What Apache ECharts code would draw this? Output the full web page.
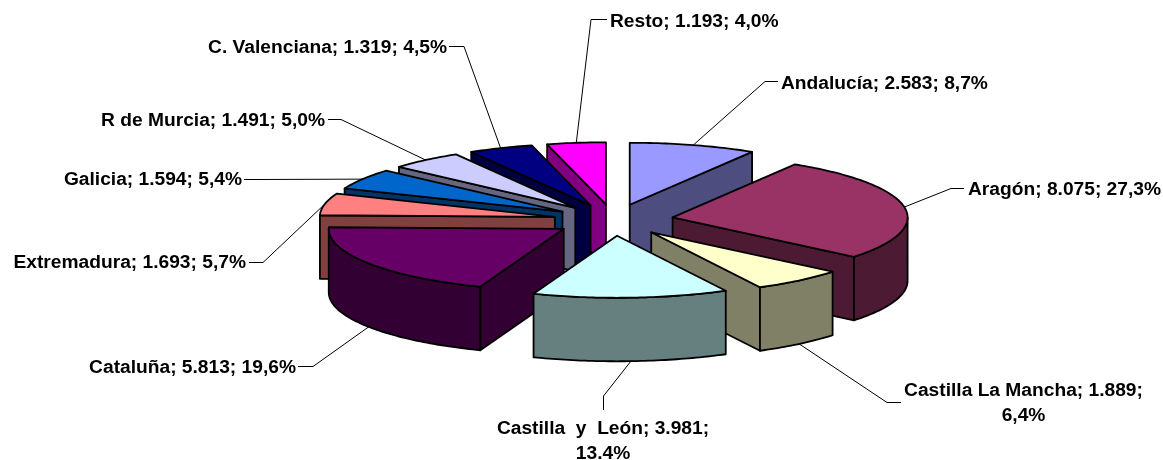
<!DOCTYPE html>
<html>
<head>
<meta charset="utf-8">
<style>html,body{margin:0;padding:0;background:#fff}#c{width:1163px;height:460px}</style>
<script src="https://cdn.jsdelivr.net/npm/echarts@6/dist/echarts.min.js"></script>
</head>
<body>
<div id="c"></div>
<script>
// ---- data ----
const categories = ['Andalucía','Aragón','Castilla La Mancha','Castilla  y  León','Cataluña','Extremadura','Galicia','R de Murcia','C. Valenciana','Resto'];
const values = [2583,8075,1889,3981,5813,1693,1594,1491,1319,1193];
const percentLabels = ['8,7%','27,3%','6,4%','13.4%','19,6%','5,7%','5,4%','5,0%','4,5%','4,0%'];

// ---- styles ----
const topColors  = ['#9999FF','#993366','#FFFFCC','#CCFFFF','#660066','#FF8080','#0066CC','#CCCCFF','#000080','#FF00FF'];
const sideColors = ['#4D4D80','#4D1A33','#808066','#668080','#330033','#804040','#003366','#666680','#000040','#800080'];

// ---- 3D pie projection ----
const CX = 613.5, CY = 220, RX = 235, RY = 62, DEPTH = 63.5, EXPLODE = 0.255;
const total = values.reduce((a, b) => a + b, 0);
const DEG = Math.PI / 180;

// slice geometry derived from the values only
const slices = [];
(function () {
  let acc = 0;
  values.forEach(function (v, i) {
    const a0 = acc / total * 360; acc += v;
    const a1 = acc / total * 360, mid = (a0 + a1) / 2;
    slices.push({
      i: i, a0: a0, a1: a1, mid: mid,
      ax: CX + EXPLODE * RX * Math.sin(mid * DEG),
      ay: CY - EXPLODE * RY * Math.cos(mid * DEG)
    });
  });
})();
function rim(s, deg, drop) {
  return [s.ax + RX * Math.sin(deg * DEG), s.ay - RY * Math.cos(deg * DEG) + (drop || 0)];
}
function arc(s, from, to, drop) {
  const n = Math.max(2, Math.ceil(Math.abs(to - from)));
  const pts = [];
  for (let k = 0; k <= n; k++) pts.push(rim(s, from + (to - from) * k / n, drop));
  return pts;
}
function cutVisible(deg, mid) {
  const ex = Math.sin(deg * DEG) * RX, ey = -Math.cos(deg * DEG) * RY;
  const mx = Math.sin(mid * DEG) * RX, my = -Math.cos(mid * DEG) * RY;
  return (ex * my - ey * mx) * ex < -1e-6;
}
// painter's order: back slices first
const drawOrder = slices.slice().sort((p, q) => p.ay - q.ay).map(s => s.i);

// ---- label placement (text anchor and leader-line bend/end), in slice order ----
const labelLayouts = [
  {x: 781,  y: 84,  align: 'left',   elbow: [765, 81.5],  end: [778, 81.5]},
  {x: 968,  y: 190, align: 'left',   elbow: [951, 188.5], end: [964, 188.5]},
  {x: 1023.5, y: 391, align: 'center', brk: true, elbow: [887, 402.5], end: [901, 402.5]},
  {x: 603,  y: 429, align: 'center', brk: true, elbow: [603.5, 396], end: [603.5, 410]},
  {x: 296,  y: 368, align: 'right',  elbow: [313, 366.5], end: [298, 366.5]},
  {x: 246,  y: 263, align: 'right',  elbow: [263, 262.5], end: [249, 262.5]},
  {x: 242,  y: 180, align: 'right',  elbow: [257, 179.5], end: [244, 179.5]},
  {x: 325,  y: 121, align: 'right',  elbow: [341, 119.5], end: [328, 119.5]},
  {x: 447,  y: 48,  align: 'right',  elbow: [464, 46.5],  end: [449, 46.5]},
  {x: 610,  y: 22,  align: 'left',   elbow: [591, 19.5],  end: [607, 19.5]}
];
const LINE_H = 25, FONT = 'bold 19.2px "Liberation Sans", Arial, sans-serif';

function poly(points, fill) {
  return {type: 'polygon', shape: {points: points},
    style: {fill: fill, stroke: '#000', lineWidth: 1.8, lineJoin: 'round'}};
}
function renderSlice(params, api) {
  const s = slices[api.value(0)];
  const children = [];
  [s.a0, s.a1].forEach(function (deg) {
    if (cutVisible(deg, s.mid)) {
      const p = rim(s, deg);
      children.push(poly([[s.ax, s.ay], p, [p[0], p[1] + DEPTH], [s.ax, s.ay + DEPTH]], sideColors[s.i]));
    }
  });
  const w0 = Math.max(s.a0, 90), w1 = Math.min(s.a1, 270);
  if (w1 > w0) {
    children.push(poly(arc(s, w0, w1, 0).concat(arc(s, w1, w0, DEPTH)), sideColors[s.i]));
  }
  children.push(poly([[s.ax, s.ay]].concat(arc(s, s.a0, s.a1, 0)), topColors[s.i]));
  return {type: 'group', children: children};
}
function renderLabel(params, api) {
  const s = slices[api.value(0)], L = labelLayouts[s.i];
  const front = s.mid > 90 && s.mid < 270;
  const start = rim(s, s.mid, front ? DEPTH : 0);
  const head = categories[s.i] + '; ' + (values[s.i] / 1000).toFixed(3) + ';';
  const lines = L.brk ? [head, percentLabels[s.i]] : [head + ' ' + percentLabels[s.i]];
  const children = [{type: 'polyline', shape: {points: [start, L.elbow, L.end]},
    style: {fill: null, stroke: '#000', lineWidth: 1}}];
  lines.forEach(function (t, k) {
    children.push({type: 'text', style: {text: t, x: L.x, y: L.y + k * LINE_H, font: FONT, fill: '#000',
      align: L.align, verticalAlign: 'middle', textAlign: L.align, textVerticalAlign: 'middle'}});
  });
  return {type: 'group', children: children};
}

const chart = echarts.init(document.getElementById('c'), null, {renderer: 'canvas'});
chart.setOption({
  animation: false,
  backgroundColor: '#fff',
  tooltip: {show: false},
  series: [
    {type: 'custom', coordinateSystem: 'none', silent: true, z: 2,
     data: drawOrder.map(i => ({name: categories[i], value: [i, values[i]]})),
     renderItem: renderSlice},
    {type: 'custom', coordinateSystem: 'none', silent: true, z: 3,
     data: categories.map((c, i) => ({name: c, value: [i, values[i]]})),
     renderItem: renderLabel}
  ]
});
</script>
</body>
</html>
